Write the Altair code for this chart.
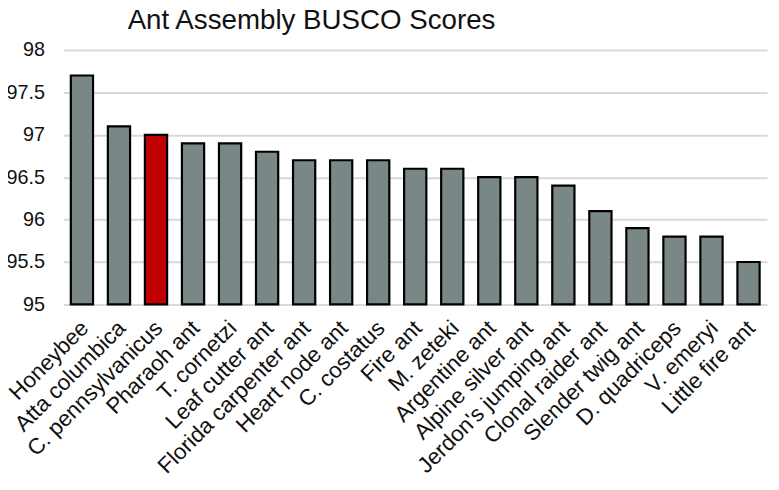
import altair as alt
import pandas as pd

species = ["Honeybee", "Atta columbica", "C. pennsylvanicus", "Pharaoh ant", "T. cornetzi",
           "Leaf cutter ant", "Florida carpenter ant", "Heart node ant", "C. costatus", "Fire ant",
           "M. zeteki", "Argentine ant", "Alpine silver ant", "Jerdon's jumping ant",
           "Clonal raider ant", "Slender twig ant", "D. quadriceps", "V. emeryi", "Little fire ant"]
busco = [97.7, 97.1, 97.0, 96.9, 96.9, 96.8, 96.7, 96.7, 96.7, 96.6,
         96.6, 96.5, 96.5, 96.4, 96.1, 95.9, 95.8, 95.8, 95.5]
highlight = "C. pennsylvanicus"
y_ticks = [95, 95.5, 96, 96.5, 97, 97.5, 98]

df = pd.DataFrame({"species": species, "busco": busco})

FONT = "Liberation Sans"

chart = alt.Chart(df).mark_bar(stroke="black", strokeWidth=2.2).encode(
    x=alt.X("species:N", sort=None,
            scale=alt.Scale(paddingInner=0.4, paddingOuter=0.2),
            axis=alt.Axis(title=None, labelAngle=-45, labelFontSize=22.5, labelFont=FONT,
                          labelColor="#111111", ticks=False, domain=True,
                          domainColor="#d9d9d9", domainWidth=2, labelPadding=20,
                          labelOffset=3,
                          labelAlign="right", labelBaseline="middle", labelLimit=0)),
    y=alt.Y("busco:Q", scale=alt.Scale(domain=[95, 98], zero=False, nice=False),
            axis=alt.Axis(title=None, values=y_ticks, labelFontSize=20, labelFont=FONT,
                          labelColor="#111111", ticks=False, domain=False,
                          gridColor="#d9d9d9", gridWidth=2, labelPadding=19,
                          labelExpr="datum.value")),
    y2=alt.datum(95),
    color=alt.condition(alt.datum.species == highlight, alt.value("#c00000"), alt.value("#798887")),
).properties(
    width=711, height=257,
    title=alt.TitleParams("Ant Assembly BUSCO Scores", anchor="start", dx=124, fontSize=28,
                          font=FONT, fontWeight="normal", color="#111111", offset=5),
    autosize=alt.AutoSizeParams(type="none"),
    padding={"left": 56, "top": 40, "right": 4, "bottom": 177},
).configure_view(stroke=None)

chart.save("out.html", embed_options={"renderer": "svg", "actions": False})
